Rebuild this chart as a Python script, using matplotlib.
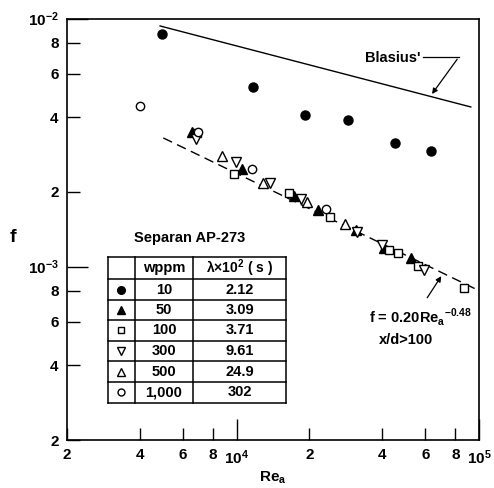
import numpy as np
import matplotlib
matplotlib.use("Agg")
import matplotlib.pyplot as plt

plt.rcParams['font.family'] = ['Liberation Sans', 'DejaVu Sans']
plt.rcParams['mathtext.fontset'] = 'custom'
plt.rcParams['mathtext.rm'] = 'Liberation Sans'

# 讀圖得到的數據 (Re_a, f)
re_10 = [4.94e3, 1.17e4, 1.92e4, 2.87e4, 4.49e4, 6.32e4]
f_10 = [8.66e-3, 5.30e-3, 4.08e-3, 3.90e-3, 3.15e-3, 2.92e-3]

re_50 = [6.57e3, 1.057e4, 1.73e4, 2.16e4, 3.10e4, 4.04e4, 5.23e4]
f_50 = [3.48e-3, 2.47e-3, 1.92e-3, 1.69e-3, 1.40e-3, 1.19e-3, 1.08e-3]

re_100 = [6.89e3, 9.8e3, 1.65e4, 2.44e4, 4.24e4, 4.62e4, 5.59e4, 8.65e4]
f_100 = [3.45e-3, 2.36e-3, 1.98e-3, 1.58e-3, 1.17e-3, 1.13e-3, 1.01e-3, 8.2e-4]

re_300 = [6.82e3, 9.98e3, 1.37e4, 1.84e4, 3.15e4, 4.0e4, 5.92e4]
f_300 = [3.27e-3, 2.64e-3, 2.17e-3, 1.87e-3, 1.38e-3, 1.22e-3, 9.7e-4]

re_500 = [8.74e3, 1.29e4, 1.96e4, 2.79e4]
f_500 = [2.79e-3, 2.17e-3, 1.82e-3, 1.48e-3]

re_1000 = [4.0e3, 6.95e3, 1.16e4, 2.35e4]
f_1000 = [4.44e-3, 3.50e-3, 2.47e-3, 1.71e-3]

blasius_re = [4.84e3, 9.25e4]
blasius_f = [9.33e-3, 4.40e-3]

fit_re = [4.99e3, 1.0e5]
fit_f = [3.30e-3, 8.0e-4]

wppm = ['10', '50', '100', '300', '500', '1,000']
lam = ['2.12', '3.09', '3.71', '9.61', '24.9', '302']

# 標記樣式: (marker, facecolor, size)
styles = [('o', 'black', 6.5), ('^', 'black', 7), ('s', 'white', 6),
          ('v', 'white', 7), ('^', 'white', 7), ('o', 'white', 6)]
series = [(re_10, f_10), (re_50, f_50), (re_100, f_100),
          (re_300, f_300), (re_500, f_500), (re_1000, f_1000)]

fig = plt.figure(figsize=(4.94, 4.88), dpi=100)
ax = fig.add_axes([67 / 494, 48 / 488, 412 / 494, 421.5 / 488])
ax.set_xscale('log')
ax.set_yscale('log')
ax.set_xlim(2e3, 1e5)
ax.set_ylim(2e-4, 1e-2)

ax.plot(blasius_re, blasius_f, color='black', lw=1.0)
ax.plot(fit_re, fit_f, color='black', lw=1.0, dashes=(7, 4))

for (xs, ys), (m, fc, ms) in zip(series, styles):
    ax.plot(xs, ys, linestyle='none', marker=m, ms=ms, mfc=fc, mec='black',
            mew=1.0, clip_on=False)

# 座標軸刻度
xmaj = [1e4, 1e5]
xmin = [2e3, 4e3, 6e3, 8e3, 2e4, 4e4, 6e4, 8e4]
ymaj = [1e-3, 1e-2]
ymin = [2e-4, 4e-4, 6e-4, 8e-4, 2e-3, 4e-3, 6e-3, 8e-3]
ax.set_xticks(xmaj)
ax.set_xticklabels([r'$\mathregular{10^4}$', r'$\mathregular{10^5}$'])
ax.set_xticks(xmin, minor=True)
ax.set_xticklabels(['2', '4', '6', '8', '2', '4', '6', '8'], minor=True)
ax.set_yticks(ymaj)
ax.set_yticklabels([r'$\mathregular{10^{-3}}$', r'$\mathregular{10^{-2}}$'])
ax.set_yticks(ymin, minor=True)
ax.set_yticklabels(['2', '4', '6', '8', '2', '4', '6', '8'], minor=True)

ax.tick_params(which='major', direction='in', length=15, width=1.0,
               labelsize=11, pad=6)
ax.tick_params(which='minor', direction='in', length=9, width=1.0,
               labelsize=11, pad=6)
for lab in ax.get_xticklabels(which='both') + ax.get_yticklabels(which='both'):
    lab.set_fontweight('bold')
for s in ax.spines.values():
    s.set_linewidth(1.2)

fig.text(13 / 494, 1 - 238 / 488, 'f', fontsize=14, fontweight='bold',
         ha='center', va='center')
fig.text(273 / 494, 1 - 478 / 488, r'Re$_\mathregular{a}$', fontsize=11,
         fontweight='bold', ha='center', va='center')

# 註解
ax.annotate('', xy=(6.3e4, 4.86e-3), xytext=(8.26e4, 7.0e-3),
            arrowprops=dict(arrowstyle='-|>', color='black', lw=0.9,
                            mutation_scale=8))
ax.plot([5.85e4, 8.26e4], [7.0e-3, 7.0e-3], color='black', lw=0.9)
ax.text(5.75e4, 6.9e-3, 'Blasius\'', fontsize=10.5, fontweight='bold',
        ha='right', va='center')

ax.annotate('', xy=(7.09e4, 9.35e-4), xytext=(6.03e4, 7.33e-4),
            arrowprops=dict(arrowstyle='-|>', color='black', lw=0.9,
                            mutation_scale=8))
ax.text(5.75e4, 6.26e-4, r'f = 0.20Re$_\mathregular{a}$$^\mathregular{-0.48}$',
        fontsize=10.5, fontweight='bold', ha='center', va='center')
ax.text(4.99e4, 5.05e-4, 'x/d>100', fontsize=10.5, fontweight='bold',
        ha='center', va='center')

# 圖例表格
tx = [0.0995, 0.165, 0.306, 0.5316]
ty = [0.434, 0.382, 0.332, 0.285, 0.235, 0.187, 0.138, 0.088]
tr = ax.transAxes
for yy in ty:
    ax.plot([tx[0], tx[-1]], [yy, yy], color='black', lw=1.1, transform=tr)
for xx in tx:
    ax.plot([xx, xx], [ty[0], ty[-1]], color='black', lw=1.1, transform=tr)

ax.text(0.2985, 0.479, 'Separan AP-273', fontsize=10.5, fontweight='bold',
        ha='center', va='center', transform=tr)
hy = (ty[0] + ty[1]) / 2
ax.text((tx[1] + tx[2]) / 2, hy, 'wppm', fontsize=10.5, fontweight='bold',
        ha='center', va='center', transform=tr)
ax.text((tx[2] + tx[3]) / 2, hy, r'λ×10$^\mathregular{2}$ ( s )',
        fontsize=10, fontweight='bold', ha='center', va='center', transform=tr)
for i in range(len(wppm)):
    yc = (ty[i + 1] + ty[i + 2]) / 2
    m, fc, ms = styles[i]
    ax.plot([(tx[0] + tx[1]) / 2], [yc], marker=m, ms=ms - 1, mfc=fc,
            mec='black', mew=1.0, transform=tr, linestyle='none')
    ax.text((tx[1] + tx[2]) / 2, yc, wppm[i], fontsize=10.5, fontweight='bold',
            ha='center', va='center', transform=tr)
    ax.text((tx[2] + tx[3]) / 2, yc, lam[i], fontsize=10.5, fontweight='bold',
            ha='center', va='center', transform=tr)

fig.savefig('out.png', dpi=100)
